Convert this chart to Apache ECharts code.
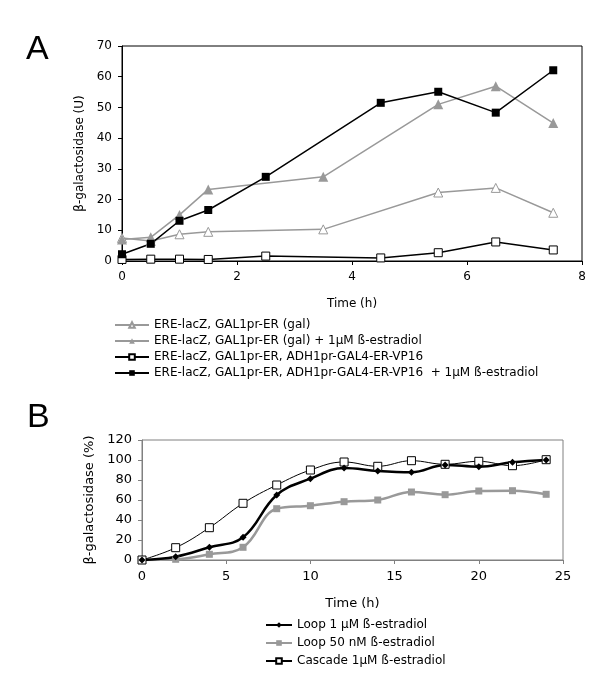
<!DOCTYPE html>
<html>
<head>
<meta charset="utf-8">
<script src="https://cdn.jsdelivr.net/npm/echarts@6/dist/echarts.min.js"></script>
<style>html,body{margin:0;padding:0;background:#fff}#c{width:600px;height:683px}</style>
</head>
<body>
<div id="c"></div>
<script>
// Panel A data
var aTimeTri = [0, 0.5, 1, 1.5, 3.5, 5.5, 6.5, 7.5];
var aTimeSq = [0, 0.5, 1, 1.5, 2.5, 4.5, 5.5, 6.5, 7.5];
var aGal = [7.5, 6.5, 8.7, 9.5, 10.3, 22.3, 23.8, 15.7];
var aGalEst = [7.0, 7.7, 15.0, 23.3, 27.4, 51.0, 56.9, 44.9];
var aVp16 = [0.5, 0.6, 0.6, 0.5, 1.6, 1.0, 2.7, 6.2, 3.6];
var aVp16Est = [2.2, 5.6, 13.1, 16.6, 27.4, 51.5, 55.1, 48.3, 62.1];
var aNames = ['ERE-lacZ, GAL1pr-ER (gal)', 'ERE-lacZ, GAL1pr-ER (gal) + 1µM ß-estradiol', 'ERE-lacZ, GAL1pr-ER, ADH1pr-GAL4-ER-VP16', 'ERE-lacZ, GAL1pr-ER, ADH1pr-GAL4-ER-VP16  + 1µM ß-estradiol'];
var aXTicks = [0, 2, 4, 6, 8];
var aYTicks = [0, 10, 20, 30, 40, 50, 60, 70];

// Panel B data
var bTime = [0, 2, 4, 6, 8, 10, 12, 14, 16, 18, 20, 22, 24];
var bLoop1 = [0, 3.3, 12.7, 22.7, 65, 81.3, 92, 89, 87.7, 95, 93.3, 97.7, 100];
var bLoop50 = [0, 0.7, 5.7, 12.7, 51.3, 54.3, 58.3, 60, 68, 65.3, 69, 69.3, 65.7];
var bCascade = [0, 12.3, 32.3, 56.7, 75, 90, 98, 93.7, 99.3, 95.7, 98.7, 94.3, 100.3];
var bNames = ['Loop 1 µM ß-estradiol', 'Loop 50 nM ß-estradiol', 'Cascade 1µM ß-estradiol'];

function zip(xs, ys) { return xs.map(function (x, i) { return [x, ys[i]]; }); }

var FONT = 'DejaVu Sans';
var gray = '#999999';

var chart = echarts.init(document.getElementById('c'), null, { renderer: 'canvas' });
var option = {
  animation: false,
  backgroundColor: '#fff',
  textStyle: { fontFamily: FONT, color: '#000' },
  graphic: [
    { type: 'text', left: 26, top: 33, style: { text: 'A', font: '34px "Liberation Sans"', fill: '#000' } },
    { type: 'text', left: 27, top: 401, style: { text: 'B', font: '34px "Liberation Sans"', fill: '#000' } }
  ],
  grid: [
    { left: 122, top: 46, width: 460, height: 215, show: true, borderColor: '#000', borderWidth: 1, backgroundColor: 'transparent' },
    { left: 142, top: 440, width: 421, height: 120, show: true, borderColor: '#808080', borderWidth: 1, backgroundColor: 'transparent' }
  ],
  xAxis: [
    { type: 'value', gridIndex: 0, min: 0, max: 8, interval: 2,
      name: 'Time (h)', nameLocation: 'middle', nameGap: 37,
      nameTextStyle: { fontFamily: FONT, fontSize: 12, color: '#000' },
      axisLine: { lineStyle: { color: '#000', width: 1 } },
      axisTick: { show: true, length: 4, lineStyle: { color: '#000' } },
      axisLabel: { fontFamily: FONT, fontSize: 12, color: '#000', margin: 10 },
      splitLine: { show: false } },
    { type: 'value', gridIndex: 1, min: 0, max: 25, interval: 5,
      name: 'Time (h)', nameLocation: 'middle', nameGap: 37,
      nameTextStyle: { fontFamily: FONT, fontSize: 13, color: '#000' },
      axisLine: { lineStyle: { color: '#808080', width: 1 } },
      axisTick: { show: true, length: 4, lineStyle: { color: '#808080' } },
      axisLabel: { fontFamily: FONT, fontSize: 13, color: '#000', margin: 10 },
      splitLine: { show: false } }
  ],
  yAxis: [
    { type: 'value', gridIndex: 0, min: 0, max: 70, interval: 10,
      name: 'β-galactosidase (U)', nameLocation: 'middle', nameGap: 25, nameRotate: 90,
      nameTextStyle: { fontFamily: FONT, fontSize: 12, color: '#000' },
      axisLine: { show: true, lineStyle: { color: '#000', width: 1 } },
      axisTick: { show: true, length: 4, lineStyle: { color: '#000' } },
      axisLabel: { fontFamily: FONT, fontSize: 12, color: '#000', margin: 10 },
      splitLine: { show: false } },
    { type: 'value', gridIndex: 1, min: 0, max: 120, interval: 20,
      name: 'β-galactosidase (%)', nameLocation: 'middle', nameGap: 37, nameRotate: 90,
      nameTextStyle: { fontFamily: FONT, fontSize: 13, color: '#000' },
      axisLine: { show: true, lineStyle: { color: '#808080', width: 1 } },
      axisTick: { show: true, length: 4, lineStyle: { color: '#808080' } },
      axisLabel: { fontFamily: FONT, fontSize: 13, color: '#000', margin: 10 },
      splitLine: { show: false } }
  ],
  legend: [
    { data: aNames, orient: 'vertical', left: 109, top: 314, itemWidth: 34, itemHeight: 7, itemGap: 4,
      textStyle: { fontFamily: FONT, fontSize: 12, color: '#000' } },
    { data: bNames, orient: 'vertical', left: 260, top: 614, itemWidth: 26, itemHeight: 7, itemGap: 6,
      textStyle: { fontFamily: FONT, fontSize: 12, color: '#000' } }
  ],
  series: [
    { name: aNames[0], type: 'line', xAxisIndex: 0, yAxisIndex: 0, data: zip(aTimeTri, aGal),
      symbol: 'triangle', symbolSize: 9, lineStyle: { color: gray, width: 1.5 },
      itemStyle: { color: '#fff', borderColor: gray, borderWidth: 1 } },
    { name: aNames[1], type: 'line', xAxisIndex: 0, yAxisIndex: 0, data: zip(aTimeTri, aGalEst),
      symbol: 'triangle', symbolSize: 10, lineStyle: { color: gray, width: 1.5 },
      itemStyle: { color: gray, borderColor: gray, borderWidth: 0 } },
    { name: aNames[2], type: 'line', xAxisIndex: 0, yAxisIndex: 0, data: zip(aTimeSq, aVp16),
      symbol: 'rect', symbolSize: 8, lineStyle: { color: '#000', width: 1.5 },
      itemStyle: { color: '#fff', borderColor: '#000', borderWidth: 1 } },
    { name: aNames[3], type: 'line', xAxisIndex: 0, yAxisIndex: 0, data: zip(aTimeSq, aVp16Est),
      symbol: 'rect', symbolSize: 8, lineStyle: { color: '#000', width: 1.5 },
      itemStyle: { color: '#000', borderColor: '#000', borderWidth: 0 } },
    { name: bNames[1], type: 'line', xAxisIndex: 1, yAxisIndex: 1, data: zip(bTime, bLoop50), smooth: 0.4,
      symbol: 'rect', symbolSize: 7, lineStyle: { color: gray, width: 2.5 },
      itemStyle: { color: gray, borderWidth: 0 } },
    { name: bNames[2], type: 'line', xAxisIndex: 1, yAxisIndex: 1, data: zip(bTime, bCascade), smooth: 0.4,
      symbol: 'rect', symbolSize: 8, lineStyle: { color: '#000', width: 1 },
      itemStyle: { color: '#fff', borderColor: '#000', borderWidth: 1 } },
    { name: bNames[0], type: 'line', xAxisIndex: 1, yAxisIndex: 1, data: zip(bTime, bLoop1), smooth: 0.4,
      symbol: 'diamond', symbolSize: 7, lineStyle: { color: '#000', width: 2.5 },
      itemStyle: { color: '#000', borderWidth: 0 } }
  ]
};
chart.setOption(option);
</script>
</body>
</html>
